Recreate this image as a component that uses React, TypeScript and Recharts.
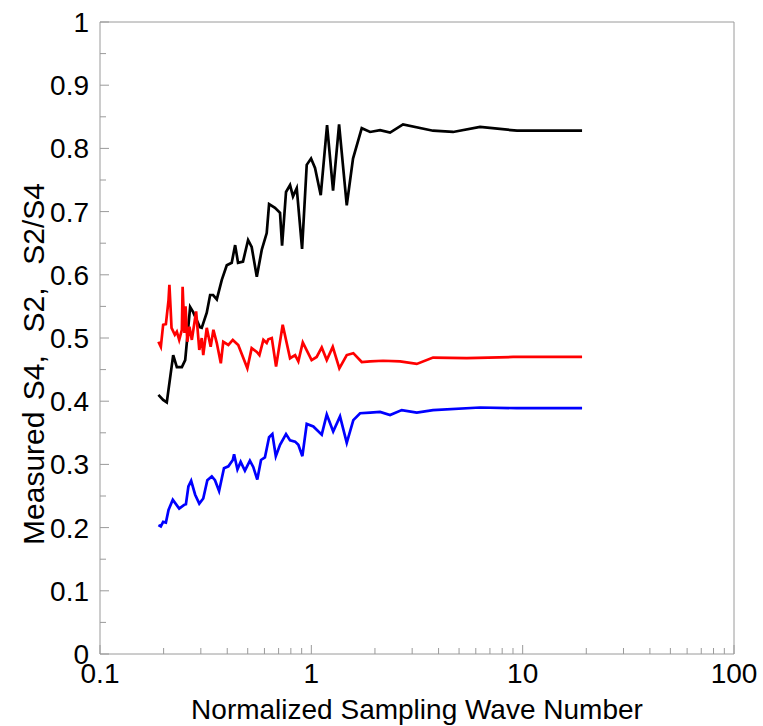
import { LineChart, Line, XAxis, YAxis, ReferenceLine } from "recharts";

// S4 (black)
const s4X = [0.189, 0.199, 0.207, 0.222, 0.231, 0.244, 0.253, 0.267, 0.276, 0.297, 0.303, 0.32, 0.332, 0.343, 0.357, 0.377, 0.398, 0.42, 0.436, 0.45, 0.475, 0.502, 0.522, 0.552, 0.583, 0.615, 0.631, 0.673, 0.711, 0.727, 0.759, 0.793, 0.819, 0.853, 0.904, 0.951, 0.997, 1.041, 1.108, 1.187, 1.267, 1.353, 1.471, 1.575, 1.732, 1.897, 2.115, 2.358, 2.716, 3.767, 4.684, 6.286, 9.408, 19.1];
const s4Y = [0.41, 0.402, 0.398, 0.473, 0.454, 0.454, 0.465, 0.549, 0.541, 0.517, 0.516, 0.54, 0.568, 0.568, 0.561, 0.592, 0.615, 0.619, 0.647, 0.619, 0.621, 0.655, 0.644, 0.597, 0.64, 0.666, 0.712, 0.706, 0.698, 0.646, 0.731, 0.742, 0.724, 0.737, 0.641, 0.774, 0.784, 0.769, 0.726, 0.837, 0.733, 0.838, 0.71, 0.784, 0.832, 0.826, 0.829, 0.825, 0.838, 0.828, 0.826, 0.834, 0.828, 0.828];

// S2 (blue)
const s2X = [0.189, 0.194, 0.199, 0.205, 0.211, 0.221, 0.237, 0.25, 0.255, 0.262, 0.27, 0.282, 0.295, 0.308, 0.322, 0.338, 0.35, 0.366, 0.386, 0.405, 0.425, 0.431, 0.447, 0.463, 0.485, 0.512, 0.531, 0.555, 0.578, 0.603, 0.631, 0.654, 0.679, 0.711, 0.759, 0.793, 0.838, 0.868, 0.907, 0.951, 1.022, 1.12, 1.183, 1.269, 1.367, 1.471, 1.58, 1.701, 1.897, 2.115, 2.358, 2.678, 3.154, 3.767, 6.286, 9.37, 19.1];
const s2Y = [0.204, 0.202, 0.209, 0.208, 0.228, 0.244, 0.23, 0.236, 0.237, 0.265, 0.274, 0.252, 0.238, 0.246, 0.275, 0.281, 0.275, 0.258, 0.294, 0.297, 0.307, 0.316, 0.292, 0.304, 0.29, 0.306, 0.296, 0.276, 0.307, 0.311, 0.343, 0.348, 0.313, 0.331, 0.348, 0.338, 0.336, 0.331, 0.313, 0.364, 0.36, 0.347, 0.379, 0.352, 0.376, 0.334, 0.37, 0.381, 0.382, 0.383, 0.378, 0.386, 0.382, 0.386, 0.39, 0.389, 0.389];

// S2/S4 (red)
const ratioX = [0.189, 0.194, 0.199, 0.205, 0.211, 0.213, 0.216, 0.218, 0.226, 0.231, 0.237, 0.244, 0.246, 0.251, 0.254, 0.259, 0.265, 0.272, 0.285, 0.295, 0.303, 0.308, 0.32, 0.334, 0.344, 0.357, 0.373, 0.383, 0.405, 0.425, 0.451, 0.498, 0.522, 0.552, 0.568, 0.593, 0.615, 0.626, 0.65, 0.681, 0.732, 0.793, 0.838, 0.868, 0.911, 1.003, 1.06, 1.12, 1.183, 1.263, 1.357, 1.471, 1.58, 1.732, 1.897, 2.185, 2.63, 3.154, 3.767, 5.438, 9.01, 13.48, 19.1];
const ratioY = [0.494, 0.486, 0.521, 0.522, 0.56, 0.584, 0.544, 0.516, 0.505, 0.51, 0.497, 0.513, 0.581, 0.508, 0.55, 0.494, 0.518, 0.497, 0.542, 0.481, 0.5, 0.473, 0.516, 0.486, 0.513, 0.492, 0.46, 0.494, 0.489, 0.497, 0.489, 0.452, 0.484, 0.478, 0.473, 0.497, 0.492, 0.498, 0.5, 0.455, 0.521, 0.468, 0.473, 0.463, 0.493, 0.465, 0.47, 0.485, 0.465, 0.486, 0.452, 0.473, 0.476, 0.462, 0.463, 0.464, 0.463, 0.459, 0.469, 0.468, 0.47, 0.47, 0.47];

const xMajorTicks = [0.1, 1, 10, 100];
const xMinorTicks = [0.2, 0.3, 0.4, 0.5, 0.6, 0.7, 0.8, 0.9, 2, 3, 4, 5, 6, 7, 8, 9, 20, 30, 40, 50, 60, 70, 80, 90];
const yMajorTicks = [0, 0.1, 0.2, 0.3, 0.4, 0.5, 0.6, 0.7, 0.8, 0.9, 1];
const yMinorTicks = [0.05, 0.15, 0.25, 0.35, 0.45, 0.55, 0.65, 0.75, 0.85, 0.95];

const zip = (xs: number[], ys: number[]) => xs.map((x, i) => ({ x, y: ys[i] }));
const s4Data = zip(s4X, s4Y);
const s2Data = zip(s2X, s2Y);
const ratioData = zip(ratioX, ratioY);

const FRAME = "#9a9a9a";
const FONT = "Liberation Sans, Arial, sans-serif";
const X_GAP = 8;
const Y_GAP = 11;

function XTick(props: any) {
  const { x, y, payload } = props;
  const v = payload.value;
  const major = xMajorTicks.includes(v);
  const axisY = y - X_GAP;
  return (
    <g>
      <line x1={x} x2={x} y1={axisY} y2={axisY - (major ? 9 : 6)} stroke={FRAME} />
      {major && (
        <text x={x} y={y} dy="0.74em" textAnchor="middle" fontSize={28} fontFamily={FONT} fill="#000">
          {String(v)}
        </text>
      )}
    </g>
  );
}

function YTick(props: any) {
  const { x, y, payload } = props;
  const v = payload.value;
  const major = yMajorTicks.includes(v);
  const axisX = x + Y_GAP;
  return (
    <g>
      <line x1={axisX} x2={axisX + (major ? 9 : 6)} y1={y} y2={y} stroke={FRAME} />
      {major && (
        <text x={x} y={y} dy="0.36em" textAnchor="end" fontSize={28} fontFamily={FONT} fill="#000">
          {String(v)}
        </text>
      )}
    </g>
  );
}

function YTitle(props: any) {
  const { viewBox } = props;
  const cx = 33;
  const cy = viewBox.y + viewBox.height / 2 + 26;
  return (
    <text
      x={cx}
      y={cy}
      transform={`rotate(-90, ${cx}, ${cy})`}
      textAnchor="middle"
      dominantBaseline="central"
      fontSize={30}
      fontFamily={FONT}
      fill="#000"
      style={{ whiteSpace: "pre", wordSpacing: 3 }}
    >
      {"Measured S4,  S2,  S2/S4"}
    </text>
  );
}

function XTitle(props: any) {
  const { viewBox } = props;
  const cx = viewBox.x + viewBox.width / 2;
  return (
    <text x={cx} y={719} textAnchor="middle" fontSize={28} fontFamily={FONT} fill="#000">
      Normalized Sampling Wave Number
    </text>
  );
}

export default function App() {
  return (
    <div style={{ position: "absolute", left: 0, top: 0, background: "#fff" }}>
      <LineChart width={763} height={726} margin={{ top: 22, right: 29, left: 0, bottom: 0 }}>
        <XAxis
          dataKey="x"
          type="number"
          scale="log"
          domain={[0.1, 100]}
          allowDataOverflow
          ticks={[...xMajorTicks, ...xMinorTicks]}
          interval={0}
          height={72}
          stroke={FRAME}
          tickSize={0}
          tickMargin={X_GAP}
          tick={<XTick />}
          label={<XTitle />}
        />
        <YAxis
          type="number"
          domain={[0, 1]}
          allowDataOverflow
          ticks={[...yMajorTicks, ...yMinorTicks]}
          interval={0}
          width={100}
          stroke={FRAME}
          tickSize={0}
          tickMargin={Y_GAP}
          tick={<YTick />}
          label={<YTitle />}
        />
        <ReferenceLine y={1} stroke={FRAME} />
        <ReferenceLine x={100} stroke={FRAME} />
        <Line data={s4Data} dataKey="y" type="linear" stroke="#000000" strokeWidth={2.7} dot={false} isAnimationActive={false} />
        <Line data={ratioData} dataKey="y" type="linear" stroke="#ff0000" strokeWidth={2.7} dot={false} isAnimationActive={false} />
        <Line data={s2Data} dataKey="y" type="linear" stroke="#0000ff" strokeWidth={2.7} dot={false} isAnimationActive={false} />
      </LineChart>
    </div>
  );
}
